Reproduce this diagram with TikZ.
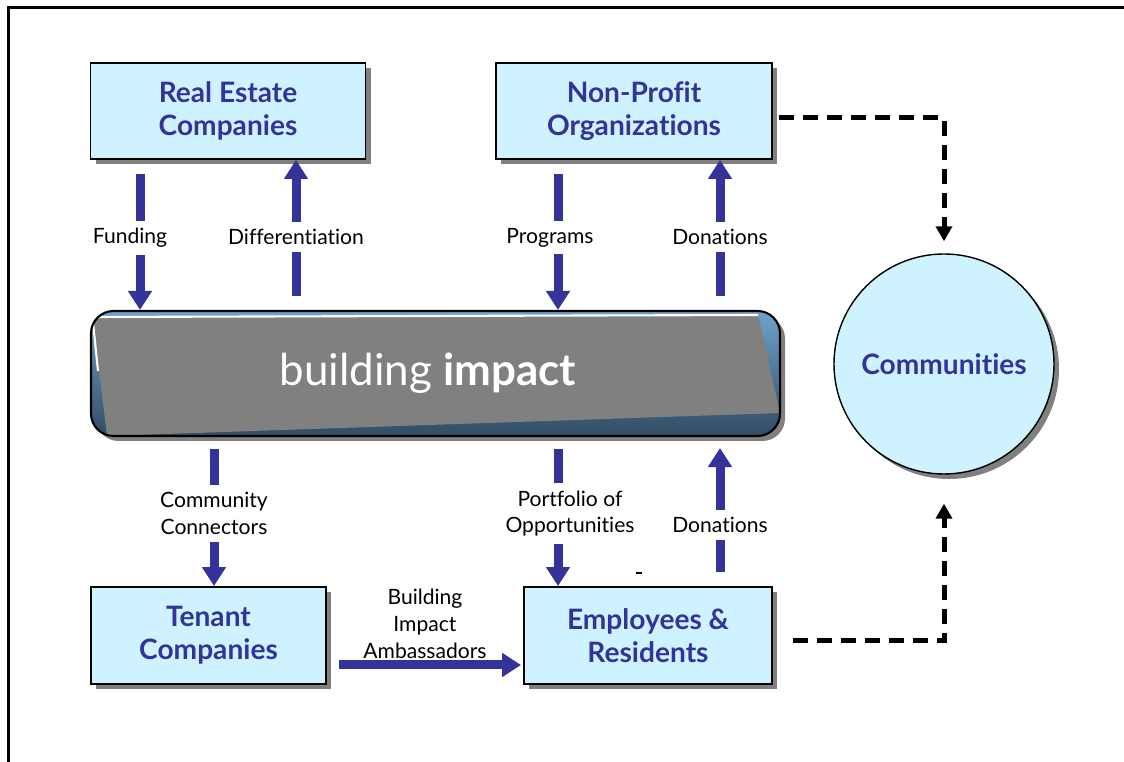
\documentclass[tikz,border=0pt]{standalone}
\usepackage{fontspec}
\setmainfont{Lato}[Ligatures=NoCommon]
\usetikzlibrary{arrows.meta,shadows}

\definecolor{boxfill}{RGB}{206,242,255}
\definecolor{navy}{RGB}{51,51,153}
\definecolor{hubtop}{RGB}{112,162,204}
\definecolor{hubbot}{RGB}{50,76,100}
\definecolor{hubgray}{RGB}{128,128,128}

\tikzset{
  actor/.style={draw=black, line width=1.1pt, fill=boxfill, align=center,
    text=navy, font=\fontsize{16}{18.7}\selectfont\bfseries, inner sep=0pt,
    drop shadow={shadow xshift=0.1cm, shadow yshift=-0.1cm, fill=black!50, opacity=1}},
  flow/.style={draw=navy, line width=0.18cm, -{Triangle[width=0.46cm,length=0.38cm]}},
  lbl/.style={fill=white, text=black, align=center, inner sep=4pt,
    font=\fontsize{12}{15.3}\selectfont},
  dashflow/.style={draw=black, line width=0.1cm, dash pattern=on 0.3cm off 0.18cm,
    -{Triangle[width=0.32cm,length=0.3cm]}}
}

\begin{document}
\begin{tikzpicture}
\useasboundingbox (0,0) rectangle (22.48,15.24);

% frame
\draw [line width=0.06cm] (0.16,0) -- (0.16,15.08) -- (22.48,15.08);

\node (realestate) at (4.56,13.02) [actor, minimum width=5.5cm, minimum height=1.92cm] {Real Estate\\Companies};
\node (nonprofit) at (12.68,13.02) [actor, minimum width=5.52cm, minimum height=1.92cm] {Non-Profit\\Organizations};
\node (tenant) at (4.17,2.53) [actor, minimum width=4.7cm, minimum height=1.94cm] {Tenant\\Companies};
\node (employees) at (12.96,2.53) [actor, minimum width=4.96cm, minimum height=1.94cm] {Employees \&\\Residents};
\node (communities) at (18.88,7.96) [actor, circle, line width=0.8pt, minimum size=4.4cm] {Communities};

% the central bar
\node (hub) at (8.71,7.77) [draw=black, line width=1.2pt, rounded corners=0.45cm,
  minimum width=13.78cm, minimum height=2.5cm, top color=hubtop, bottom color=hubbot,
  drop shadow={shadow xshift=0.1cm, shadow yshift=-0.1cm, fill=black!50, opacity=1},
  text=white, font=\fontsize{25}{30}\selectfont,
  path picture={
    \fill [hubgray, sharp corners] ([shift={(0.03,-0.12)}]path picture bounding box.north west)
      -- ([shift={(13.34,-0.08)}]path picture bounding box.north west)
      -- ([shift={(13.78,-2.04)}]path picture bounding box.north west)
      -- ([shift={(0.32,-2.5)}]path picture bounding box.north west) -- cycle;
    \draw [white, line width=1.2pt, sharp corners] ([shift={(0.14,-1.2)}]path picture bounding box.north west)
      -- ([shift={(0.03,-0.12)}]path picture bounding box.north west)
      -- ([shift={(13.34,-0.08)}]path picture bounding box.north west);
  }] {\hspace*{-0.3cm}building \textbf{impact}};

\coordinate (c1) at (2.8,0);
\coordinate (c2) at (5.92,0);
\coordinate (c3) at (11.16,0);
\coordinate (c4) at (14.4,0);
\coordinate (c5) at (4.28,0);

% top row
\draw [flow, shorten <=0.28cm] (realestate.south -| c1) -- node [lbl, xshift=-0.2cm, yshift=-0.06cm] {Funding} (hub.north -| c1);
\draw [flow, shorten <=0.28cm] (hub.north -| c2) -- node [lbl, yshift=-0.04cm] {Differentiation} (realestate.south -| c2);
\draw [flow, shorten <=0.28cm] (nonprofit.south -| c3) -- node [lbl, xshift=-0.16cm, yshift=-0.06cm] {Programs} (hub.north -| c3);
\draw [flow, shorten <=0.28cm] (hub.north -| c4) -- node [lbl, yshift=-0.04cm] {Donations} (nonprofit.south -| c4);

% bottom row
\draw [flow, shorten <=0.24cm] (hub.south -| c5) -- node [lbl, yshift=-0.04cm] {Community\\Connectors} (tenant.north -| c5);
\draw [flow, shorten <=0.24cm] (hub.south -| c3) -- node [lbl, xshift=0.24cm, yshift=-0.04cm] {Portfolio of\\Opportunities} (employees.north -| c3);
\draw [flow, shorten <=0.28cm, shorten >=0.22cm] (employees.north -| c4) -- node [lbl, pos=0.41] {Donations} (hub.south -| c4);
\draw [flow, shorten <=0.24cm, shorten >=0.04cm] ([yshift=-0.59cm]tenant.east) -- node [lbl, above, inner sep=1pt] {Building\\Impact\\Ambassadors} ([yshift=-0.59cm]employees.west);
\draw [line width=0.6pt] (12.72,3.78) -- (12.84,3.78);

% out to the communities
\draw [dashflow, shorten <=0.12cm, shorten >=0.24cm] ([yshift=-0.14cm]nonprofit.east) -| (communities.north);
\draw [dashflow, shorten <=0.4cm, shorten >=0.58cm] ([yshift=-0.11cm]employees.east) -| (communities.south);

\end{tikzpicture}
\end{document}
